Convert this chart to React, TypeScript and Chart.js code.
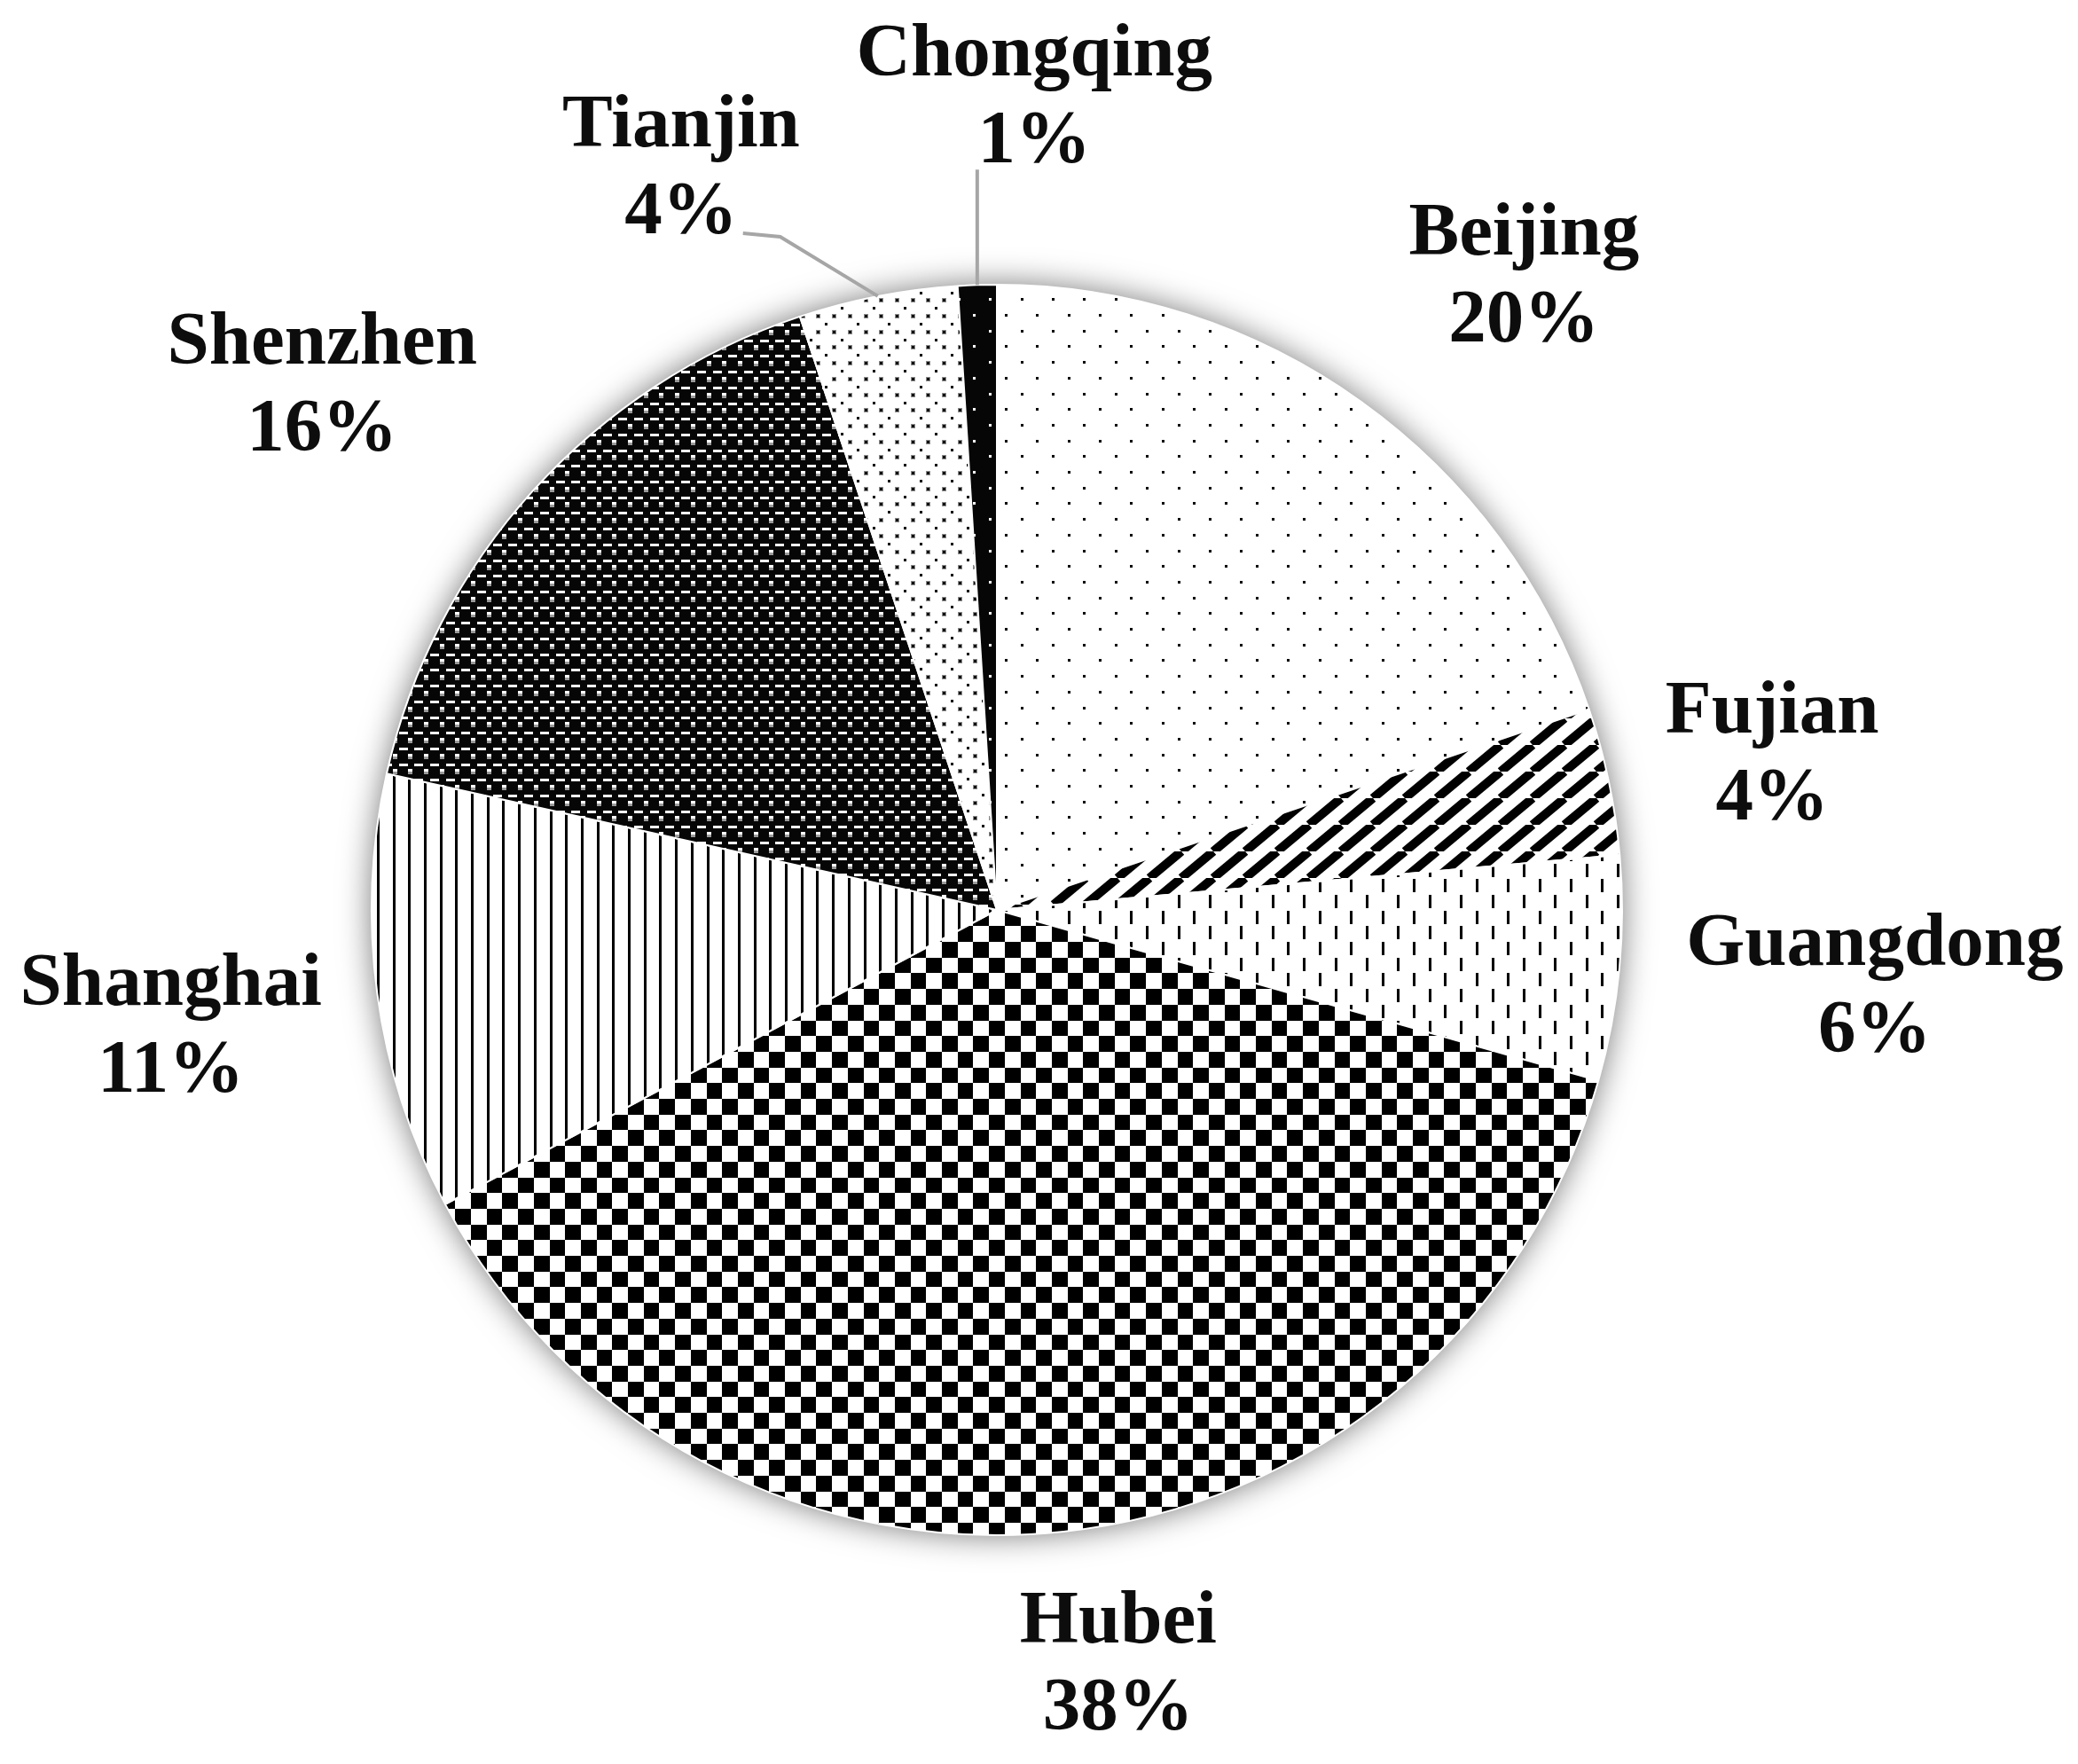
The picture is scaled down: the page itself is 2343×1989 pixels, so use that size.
import React, { useEffect, useRef } from "react";
import { Chart, registerables } from "chart.js";

Chart.register(...registerables);

// ---- data ----
const categories = ["Beijing", "Fujian", "Guangdong", "Hubei", "Shanghai", "Shenzhen", "Tianjin", "Chongqing"];
const shares = [19.8, 3.8, 5.8, 37.8, 11.3, 16.4, 4.1, 1.0];
const patternKinds = ["sparseDots", "diagonal", "dashes", "checker", "vlines", "weave", "denseDots", "darkDots"];

// ---- layout (label block centres relative to pie centre, in radius units) ----
const labelOffsets: [number, number][] = [
  [0.843, -1.01],
  [1.24, -0.245],
  [1.404, 0.126],
  [0.194, 1.21],
  [-1.321, 0.19],
  [-1.079, -0.835],
  [-0.505, -1.183],
  [0.06, -1.296],
];
const leaderKinds = [null, null, null, null, null, null, "elbow", "vertical"];

const FONT = 'bold 85px "Liberation Serif", "Times New Roman", serif';
const LINE_GAP = 49;

const HALF = 17.7;
const N = 10;
const TILE = Math.round(HALF * N);
const pos = (i: number) => Math.round(i * HALF);

function makePattern(kind: string): CanvasPattern | string {
  const c = document.createElement("canvas");
  c.width = TILE;
  c.height = TILE;
  const g = c.getContext("2d")!;
  g.fillStyle = "#fff";
  g.fillRect(0, 0, TILE, TILE);
  g.fillStyle = "#000";
  if (kind === "sparseDots") {
    for (let i = 0; i < N; i++) for (let j = 0; j < N; j++) if ((i + j) % 2 === 0) g.fillRect(pos(i), pos(j), 3, 3);
  } else if (kind === "dashes") {
    for (let i = 0; i < N; i++) for (let j = 0; j < N; j++) if ((i + j) % 2 === 0) g.fillRect(pos(i), pos(j), 3, 15);
  } else if (kind === "checker") {
    for (let i = 0; i < N; i++)
      for (let j = 0; j < N; j++)
        if ((i + j) % 2 === 0) g.fillRect(pos(i), pos(j), pos(i + 1) - pos(i), pos(j + 1) - pos(j));
  } else if (kind === "vlines") {
    for (let i = 0; i < N; i++) g.fillRect(pos(i), 0, 3, TILE);
  } else if (kind === "weave") {
    g.fillStyle = "#060606";
    g.fillRect(0, 0, TILE, TILE);
    for (let i = 0; i < N; i++)
      for (let j = 0; j < N; j++) {
        g.fillStyle = "#fff";
        g.fillRect(pos(i), pos(j), 5, 3);
        g.fillStyle = "#9a9a9a";
        g.fillRect(pos(i), pos(j) + 3, 5, 3);
        g.fillStyle = "#fff";
        g.fillRect(pos(i) + 7, pos(j) + 11, 10, 3);
      }
  } else if (kind === "denseDots") {
    for (let i = 0; i < N; i++)
      for (let j = 0; j < N; j++) {
        g.fillStyle = "#8a8a8a";
        g.fillRect(pos(i), pos(j), 5, 5);
        g.fillStyle = "#111";
        g.fillRect(pos(i) + 1, pos(j) + 1, 3, 3);
        if ((i + j) % 2 === 0) {
          g.fillStyle = "#000";
          g.fillRect(pos(i) + 10, pos(j) + 10, 3, 3);
        }
      }
  } else if (kind === "darkDots") {
    g.fillStyle = "#060606";
    g.fillRect(0, 0, TILE, TILE);
    g.fillStyle = "#fff";
    for (let i = 0; i < N; i++) for (let j = 0; j < N; j++) if ((i + j) % 2 === 0) g.fillRect(pos(i), pos(j), 3, 3);
  } else if (kind === "diagonal") {
    const cw = 36;
    const ch = 30;
    const t = document.createElement("canvas");
    t.width = cw;
    t.height = ch;
    const h = t.getContext("2d")!;
    h.fillStyle = "#fff";
    h.fillRect(0, 0, cw, ch);
    h.strokeStyle = "#000";
    h.lineWidth = 10;
    for (let k = 0; k <= 2; k++) {
      h.beginPath();
      h.moveTo(cw * k, 0);
      h.lineTo(cw * k - cw, ch);
      h.stroke();
    }
    return h.createPattern(t, "repeat")!;
  }
  return g.createPattern(c, "repeat")!;
}

const shadowPlugin = {
  id: "pieShadow",
  beforeDatasetsDraw(chart: any) {
    const el = chart.getDatasetMeta(0).data[0];
    if (!el) return;
    const ctx = chart.ctx;
    ctx.save();
    ctx.shadowColor = "rgba(0,0,0,0.55)";
    ctx.shadowBlur = 36;
    ctx.fillStyle = "#fff";
    ctx.beginPath();
    ctx.arc(el.x, el.y, el.outerRadius, 0, Math.PI * 2);
    ctx.fill();
    ctx.restore();
  },
};

const labelPlugin = {
  id: "outsideLabels",
  afterDatasetsDraw(chart: any) {
    const meta = chart.getDatasetMeta(0);
    const values: number[] = chart.data.datasets[0].data;
    const total = values.reduce((a, b) => a + b, 0);
    const ctx = chart.ctx;
    ctx.save();
    ctx.font = FONT;
    ctx.textAlign = "center";
    ctx.textBaseline = "middle";
    meta.data.forEach((el: any, i: number) => {
      const R = el.outerRadius;
      const cx = el.x + labelOffsets[i][0] * R;
      const cy = el.y + labelOffsets[i][1] * R;
      const pct = Math.round((values[i] / total) * 100) + "%";
      const y1 = cy - LINE_GAP;
      const y2 = cy + LINE_GAP;
      ctx.fillStyle = "#0d0d0d";
      ctx.fillText(chart.data.labels[i], cx, y1);
      ctx.fillText(pct, cx, y2);
      const kind = leaderKinds[i];
      if (kind) {
        const mid = (el.startAngle + el.endAngle) / 2;
        const ex = el.x + Math.cos(mid) * R;
        const ey = el.y + Math.sin(mid) * R;
        ctx.strokeStyle = "#a6a6a6";
        ctx.lineWidth = 4;
        ctx.beginPath();
        if (kind === "elbow") {
          const w = ctx.measureText(pct).width;
          const sx = cx + w / 2 + 6;
          const sy = y2 + 22;
          ctx.moveTo(sx, sy);
          ctx.lineTo(sx + 42, sy + 4);
          ctx.lineTo(ex, ey);
        } else {
          ctx.moveTo(ex, y2 + 30);
          ctx.lineTo(ex, ey);
        }
        ctx.stroke();
      }
    });
    ctx.restore();
  },
};

export default function App() {
  const ref = useRef<HTMLCanvasElement>(null);
  useEffect(() => {
    document.body.style.margin = "0";
    const canvas = ref.current!;
    const chart = new Chart(canvas, {
      type: "pie",
      data: {
        labels: categories,
        datasets: [
          {
            data: shares,
            backgroundColor: patternKinds.map(makePattern) as any,
            borderColor: "#ffffff",
            borderWidth: 2,
          },
        ],
      },
      options: {
        responsive: false,
        animation: false,
        devicePixelRatio: 1,
        layout: { padding: { left: 418, right: 513, top: 320, bottom: 257 } },
        plugins: { legend: { display: false }, tooltip: { enabled: false } },
      },
      plugins: [shadowPlugin, labelPlugin],
    });
    return () => chart.destroy();
  }, []);
  return (
    <div style={{ width: 2343, height: 1989, background: "#fff" }}>
      <canvas ref={ref} width={2343} height={1989} style={{ display: "block" }} />
    </div>
  );
}
